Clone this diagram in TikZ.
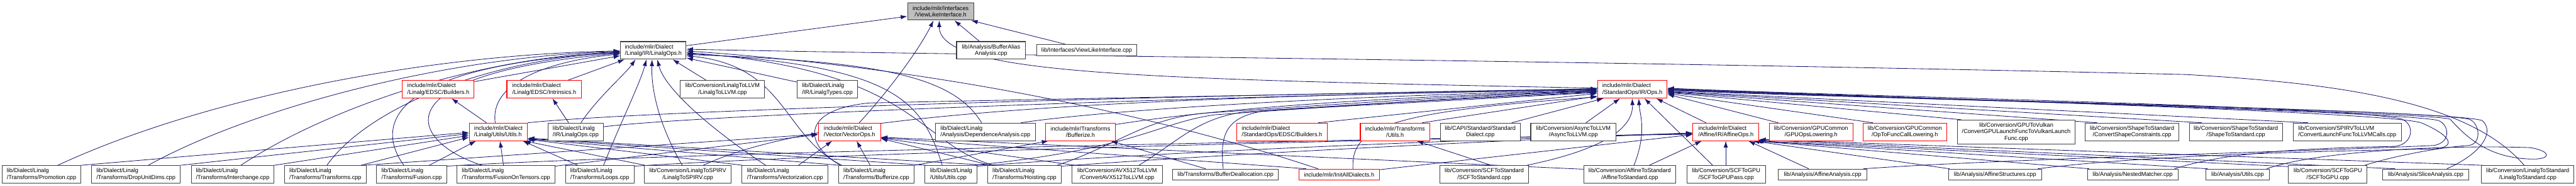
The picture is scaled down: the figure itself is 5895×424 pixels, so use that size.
\documentclass[tikz,border=0pt]{standalone}
\usepackage{fontspec}
\setmainfont{Liberation Sans}
\usetikzlibrary{arrows.meta}
\definecolor{edgec}{HTML}{191970}
\definecolor{bord}{HTML}{404040}
\definecolor{rootf}{HTML}{BFBFBF}
\pgfdeclarelayer{edgelayer}
\pgfsetlayers{edgelayer,main}
\newcommand\fnt{\fontsize{13.2}{15}\selectfont}
\newcommand\nb[7]{\pgfmathsetmacro\nbw{#4-#2}\pgfmathsetmacro\nbh{#5-#3}\pgfmathsetmacro\nbx{(#2+#4)/2}\pgfmathsetmacro\nby{(#3+#5)/2}\node[#6, minimum width=\nbw pt, minimum height=\nbh pt] (#1) at (\nbx,\nby) {#7};}
\newcommand\eT[2]{([xshift=#2pt]#1.north west)}
\newcommand\eB[2]{([xshift=#2pt]#1.south west)}
\newcommand\eL[2]{([yshift=-#2pt]#1.north west)}
\newcommand\eR[2]{([yshift=-#2pt]#1.north east)}
\tikzset{
 nbox/.style={draw=bord, line width=1.5pt, fill=white, inner sep=0pt, font=\fnt},
 rbox/.style={nbox, draw=red},
 gbox/.style={nbox, fill=rootf},
 edg/.style={draw=edgec, line width=1.2pt, -{Latex[length=15pt,width=10pt]}},
}
\begin{document}
\begin{tikzpicture}[x=1pt,y=-1pt]
\useasboundingbox (0,0) rectangle (5895,424);
% ---------- nodes ----------
\nb{root}{2077}{6}{2228}{46}{gbox, align=center}{include/mlir/Interfaces\\/ViewLikeInterface.h}
\nb{lops}{1420}{95}{1570}{135}{nbox, align=left}{include/mlir/Dialect\\/Linalg/IR/LinalgOps.h}
\nb{baa}{2189}{95}{2347}{135}{nbox, align=center}{lib/Analysis/BufferAlias\\Analysis.cpp}
\nb{vlicpp}{2372}{102}{2602}{128}{nbox}{lib/Interfaces/ViewLikeInterface.cpp}
\nb{lbld}{921}{184}{1085}{224}{rbox, align=left}{include/mlir/Dialect\\/Linalg/EDSC/Builders.h}
\nb{lint}{1160}{184}{1331}{224}{rbox, align=left}{include/mlir/Dialect\\/Linalg/EDSC/Intrinsics.h}
\nb{l2llvm}{1557}{184}{1750}{224}{nbox, align=center}{lib/Conversion/LinalgToLLVM\\/LinalgToLLVM.cpp}
\nb{ltypes}{1824}{184}{1963}{224}{nbox, align=left}{lib/Dialect/Linalg\\/IR/LinalgTypes.cpp}
\nb{stdops}{3656}{184}{3815}{224}{rbox, align=left}{include/mlir/Dialect\\/StandardOps/IR/Ops.h}
\nb{lutilh}{1074}{281}{1207}{321}{rbox, align=left}{include/mlir/Dialect\\/Linalg/Utils/Utils.h}
\nb{lopscpp}{1254}{281}{1381}{321}{nbox, align=left}{lib/Dialect/Linalg\\/IR/LinalgOps.cpp}
\nb{vec}{1873}{281}{2015}{321}{rbox, align=left}{include/mlir/Dialect\\/Vector/VectorOps.h}
\nb{dep}{2141}{281}{2369}{321}{nbox, align=left}{lib/Dialect/Linalg\\/Analysis/DependenceAnalysis.cpp}
\nb{bufh}{2393}{281}{2552}{321}{rbox, align=center}{include/mlir/Transforms\\/Bufferize.h}
\nb{sbld}{2830}{281}{3037}{321}{rbox, align=left}{include/mlir/Dialect\\/StandardOps/EDSC/Builders.h}
\nb{tutil}{3113}{281}{3272}{321}{rbox, align=center}{include/mlir/Transforms\\/Utils.h}
\nb{capi}{3296}{281}{3479}{321}{nbox, align=center}{lib/CAPI/Standard/Standard\\Dialect.cpp}
\nb{async}{3503}{281}{3698}{321}{nbox, align=center}{lib/Conversion/AsyncToLLVM\\/AsyncToLLVM.cpp}
\nb{aff}{3874}{281}{4025}{321}{rbox, align=left}{include/mlir/Dialect\\/Affine/IR/AffineOps.h}
\nb{gpul}{4049}{281}{4240}{321}{rbox, align=center}{lib/Conversion/GPUCommon\\/GPUOpsLowering.h}
\nb{opf}{4263}{281}{4455}{321}{rbox, align=center}{lib/Conversion/GPUCommon\\/OpToFuncCallLowering.h}
\nb{vulk}{4479}{274}{4749}{329}{nbox, align=center}{lib/Conversion/GPUToVulkan\\/ConvertGPULaunchFuncToVulkanLaunch\\Func.cpp}
\nb{shc}{4772}{281}{4986}{321}{nbox, align=center}{lib/Conversion/ShapeToStandard\\/ConvertShapeConstraints.cpp}
\nb{shs}{5010}{281}{5223}{321}{nbox, align=center}{lib/Conversion/ShapeToStandard\\/ShapeToStandard.cpp}
\nb{spv}{5248}{281}{5495}{321}{nbox, align=left}{lib/Conversion/SPIRVToLLVM\\/ConvertLaunchFuncToLLVMCalls.cpp}
\nb{prom}{5}{378}{185}{418}{nbox, align=left}{lib/Dialect/Linalg\\/Transforms/Promotion.cpp}
\nb{drop}{209}{378}{413}{418}{nbox, align=left}{lib/Dialect/Linalg\\/Transforms/DropUnitDims.cpp}
\nb{inter}{438}{378}{627}{418}{nbox, align=left}{lib/Dialect/Linalg\\/Transforms/Interchange.cpp}
\nb{trans}{651}{378}{838}{418}{nbox, align=left}{lib/Dialect/Linalg\\/Transforms/Transforms.cpp}
\nb{fus}{862}{378}{1022}{418}{nbox, align=left}{lib/Dialect/Linalg\\/Transforms/Fusion.cpp}
\nb{fot}{1046}{378}{1270}{418}{nbox, align=left}{lib/Dialect/Linalg\\/Transforms/FusionOnTensors.cpp}
\nb{loops}{1294}{378}{1451}{418}{nbox, align=left}{lib/Dialect/Linalg\\/Transforms/Loops.cpp}
\nb{l2spv}{1475}{378}{1673}{418}{nbox, align=center}{lib/Conversion/LinalgToSPIRV\\/LinalgToSPIRV.cpp}
\nb{vecz}{1698}{378}{1895}{418}{nbox, align=left}{lib/Dialect/Linalg\\/Transforms/Vectorization.cpp}
\nb{bufcpp}{1919}{378}{2092}{418}{nbox, align=left}{lib/Dialect/Linalg\\/Transforms/Bufferize.cpp}
\nb{lutcpp}{2117}{378}{2236}{418}{nbox, align=left}{lib/Dialect/Linalg\\/Utils/Utils.cpp}
\nb{hoist}{2260}{378}{2429}{418}{nbox, align=left}{lib/Dialect/Linalg\\/Transforms/Hoisting.cpp}
\nb{avx}{2453}{378}{2660}{418}{nbox, align=center}{lib/Conversion/AVX512ToLLVM\\/ConvertAVX512ToLLVM.cpp}
\nb{bdealloc}{2684}{386}{2925}{411}{nbox}{lib/Transforms/BufferDeallocation.cpp}
\nb{initall}{2972}{386}{3157}{411}{rbox}{include/mlir/InitAllDialects.h}
\nb{scfstd}{3295}{378}{3498}{418}{nbox, align=center}{lib/Conversion/SCFToStandard\\/SCFToStandard.cpp}
\nb{affstd}{3624}{378}{3835}{418}{nbox, align=center}{lib/Conversion/AffineToStandard\\/AffineToStandard.cpp}
\nb{scfgpup}{3860}{378}{4040}{418}{nbox, align=center}{lib/Conversion/SCFToGPU\\/SCFToGPUPass.cpp}
\nb{affan}{4070}{386}{4272}{411}{nbox}{lib/Analysis/AffineAnalysis.cpp}
\nb{affst}{4459}{386}{4672}{411}{nbox}{lib/Analysis/AffineStructures.cpp}
\nb{nest}{4777}{386}{4984}{411}{nbox}{lib/Analysis/NestedMatcher.cpp}
\nb{autil}{5048}{386}{5193}{411}{nbox}{lib/Analysis/Utils.cpp}
\nb{scfgpu}{5237}{378}{5417}{418}{nbox, align=center}{lib/Conversion/SCFToGPU\\/SCFToGPU.cpp}
\nb{slice}{5452}{386}{5650}{411}{nbox}{lib/Analysis/SliceAnalysis.cpp}
\nb{l2std}{5679}{378}{5890}{418}{nbox, align=center}{lib/Conversion/LinalgToStandard\\/LinalgToStandard.cpp}
\begin{pgfonlayer}{edgelayer}
% ---------- edges: root ----------
\draw[edg] \eR{lops}{10} -- \eL{root}{32};
\draw[edg] \eT{vec}{94} .. controls (2040,200) and (2105,110) .. \eB{root}{60};
\draw[edg] \eL{stdops}{18} .. controls (2600,180) and (2150,170) .. \eB{root}{73};
\draw[edg] \eT{baa}{53} -- \eB{root}{108};
\draw[edg] \eT{vlicpp}{68} -- \eB{root}{146};
% ---------- LinalgOps.h ----------
\draw[edg] \eT{prom}{128} .. controls (450,230) and (950,125) .. \eL{lops}{22};
\draw[edg] \eT{drop}{131} .. controls (560,255) and (1000,130) .. \eL{lops}{23};
\draw[edg] \eT{inter}{114} .. controls (720,265) and (1050,135) .. \eL{lops}{24};
\draw[edg] \eT{trans}{98} .. controls (830,260) and (1080,140) .. \eL{lops}{25};
\draw[edg] \eT{fus}{63} .. controls (860,290) and (880,150) .. \eL{lops}{26};
\draw[edg] \eT{fot}{57} .. controls (930,320) and (870,170) .. \eL{lops}{27};
\draw[edg] \eR{lbld}{3} -- \eL{lops}{33};
\draw[edg] \eT{lutilh}{60} .. controls (1120,190) and (1250,140) .. \eL{lops}{29};
\draw[edg] \eT{lint}{140} -- \eB{lops}{10};
\draw[edg] \eT{lopscpp}{76} .. controls (1370,220) and (1430,170) .. \eB{lops}{35};
\draw[edg] \eT{loops}{88} .. controls (1420,280) and (1465,190) .. \eB{lops}{60};
\draw[edg] \eT{l2spv}{87} .. controls (1505,280) and (1490,200) .. \eB{lops}{73};
\draw[edg] \eT{vecz}{55} .. controls (1620,290) and (1520,200) .. \eB{lops}{85};
\draw[edg] \eT{l2llvm}{60} -- \eB{lops}{120};
\draw[edg] \eL{ltypes}{4} -- \eR{lops}{38};
\draw[edg] \eT{bufcpp}{8} .. controls (1790,310) and (1800,150) .. \eR{lops}{33};
\draw[edg] \eT{dep}{106} .. controls (2180,170) and (2000,140) .. \eR{lops}{30};
\draw[edg] \eT{lutcpp}{40} .. controls (2110,230) and (2050,150) .. \eR{lops}{28};
\draw[edg] \eT{hoist}{15} .. controls (2100,330) and (2100,160) .. \eR{lops}{26};
\draw[edg] \eT{initall}{45} .. controls (2700,280) and (2200,160) .. \eR{lops}{22};
\draw[edg] \eT{l2std}{98} .. controls (5650,230) and (5350,190) .. (5000,170) .. controls (3500,135) and (2300,128) .. \eR{lops}{18};
% ---------- Linalg EDSC ----------
\draw[edg] \eT{lutilh}{40} -- \eB{lbld}{113};
\draw[edg] \eT{lopscpp}{48} -- \eB{lint}{105};
% ---------- Linalg Utils.h ----------
\draw[edg] \eR{prom}{0} -- \eL{lutilh}{22};
\draw[edg] \eR{drop}{0} -- \eL{lutilh}{25};
\draw[edg] \eR{inter}{0} -- \eL{lutilh}{29};
\draw[edg] \eT{trans}{176} -- \eL{lutilh}{33};
\draw[edg] \eT{fus}{121} -- \eB{lutilh}{16};
\draw[edg] \eT{fot}{107} -- \eB{lutilh}{71};
\draw[edg] \eT{loops}{29} -- \eB{lutilh}{123};
\draw[edg] \eT{l2spv}{2} -- \eB{lutilh}{126};
\draw[edg] \eT{vecz}{2} -- \eR{lutilh}{38};
\draw[edg] \eT{bufcpp}{2} -- \eR{lutilh}{37};
\draw[edg] \eT{lutcpp}{3} -- \eR{lutilh}{36};
\draw[edg] \eT{hoist}{3} -- \eR{lutilh}{35};
% ---------- VectorOps.h ----------
\draw[edg] \eT{trans}{182} -- \eL{vec}{26};
\draw[edg] \eR{fot}{2} -- \eL{vec}{27};
\draw[edg] \eT{vecz}{130} -- \eB{vec}{32};
\draw[edg] \eT{bufcpp}{73} -- \eB{vec}{88};
\draw[edg] \eT{hoist}{8} -- \eR{vec}{36};
\draw[edg] \eT{avx}{8} -- \eR{vec}{35};
\draw[edg] \eT{initall}{18} -- \eR{vec}{34};
\draw[edg] \eL{affstd}{9} -- \eR{vec}{33};
% ---------- Bufferize.h / Transforms Utils.h ----------
\draw[edg] \eR{bufcpp}{0} -- \eB{bufh}{7};
\draw[edg] \eT{bdealloc}{76} -- \eB{bufh}{150};
\draw[edg] \eT{scfstd}{118} -- \eB{tutil}{130};
% ---------- Ops.h from left ----------
\draw[edg] \eT{sbld}{187} -- \eL{stdops}{30};
\draw[edg] \eT{tutil}{142} -- \eL{stdops}{36};
\draw[edg] \eT{capi}{164} -- \eB{stdops}{14};
\draw[edg] \eT{async}{127} -- \eB{stdops}{52};
\draw[edg] \eT{initall}{125} .. controls (3090,290) and (3180,255) .. \eL{stdops}{38};
\draw[edg] \eT{scfstd}{200} .. controls (3650,345) and (3738,300) .. \eB{stdops}{80};
\draw[edg] \eT{affstd}{116} .. controls (3770,300) and (3752,260) .. \eB{stdops}{95};
\draw[edg] \eT{scfgpup}{60} -- \eB{stdops}{108};
\draw[edg] \eT{aff}{31} -- \eB{stdops}{135};
\draw[edg] \eR{lutilh}{0} .. controls (1500,250) and (2800,215) .. \eL{stdops}{20};
\draw[edg] \eR{lopscpp}{9} .. controls (1600,262) and (2800,218) .. \eL{stdops}{21};
\draw[edg] \eT{l2spv}{135} .. controls (1800,290) and (2200,225) .. \eL{stdops}{22};
\draw[edg] \eT{bufcpp}{5} .. controls (1840,330) and (1830,250) .. (1990,235) .. controls (2600,222) and (3300,210) .. \eL{stdops}{19};
\draw[edg] \eT{dep}{196} .. controls (2500,255) and (3000,220) .. \eL{stdops}{23};
\draw[edg] \eR{bufh}{4} .. controls (2800,245) and (3200,220) .. \eL{stdops}{24};
\draw[edg] \eT{hoist}{160} .. controls (2560,330) and (2620,270) .. (2760,258) .. controls (3100,235) and (3400,215) .. \eL{stdops}{25};
\draw[edg] \eT{lutcpp}{112} .. controls (2600,340) and (2650,280) .. (2780,262) .. controls (3100,240) and (3400,218) .. \eL{stdops}{26};
\draw[edg] \eT{avx}{154} .. controls (2700,320) and (2740,270) .. (2850,255) .. controls (3200,232) and (3450,220) .. \eL{stdops}{27};
\draw[edg] \eT{bdealloc}{116} .. controls (2790,300) and (2810,265) .. (2900,252) .. controls (3200,236) and (3450,222) .. \eL{stdops}{28};
% ---------- Ops.h from right ----------
\draw[edg] \eT{gpul}{21} -- \eR{stdops}{32};
\draw[edg] \eT{opf}{24} -- \eR{stdops}{30};
\draw[edg] \eT{vulk}{10} -- \eR{stdops}{28};
\draw[edg] \eT{shc}{28} -- \eR{stdops}{27};
\draw[edg] \eT{shs}{30} -- \eR{stdops}{26};
\draw[edg] \eT{spv}{35} -- \eR{stdops}{25};
\draw[edg] \eT{nest}{200} .. controls (5100,345) and (5300,338) .. (5480,334) .. controls (5525,330) and (5528,278) .. (5490,270) .. controls (5300,240) and (4300,222) .. \eR{stdops}{18};
\draw[edg] \eT{affst}{205} .. controls (4900,355) and (5300,345) .. (5570,340) .. controls (5630,335) and (5600,305) .. (5540,280) .. controls (5450,255) and (4400,225) .. \eR{stdops}{19};
\draw[edg] \eT{affan}{195} .. controls (4600,362) and (5300,345) .. (5570,332) .. controls (5610,325) and (5605,285) .. (5580,275) .. controls (5500,255) and (4400,226) .. \eR{stdops}{20};
\draw[edg] \eT{scfgpu}{175} .. controls (5500,350) and (5600,335) .. (5650,332) .. controls (5680,328) and (5675,280) .. (5650,272) .. controls (5550,250) and (4400,228) .. \eR{stdops}{21};
\draw[edg] \eT{autil}{140} .. controls (5300,345) and (5600,330) .. (5790,337) .. controls (5840,345) and (5840,365) .. (5790,363) .. controls (5700,360) and (5650,320) .. (5607,272) .. controls (5550,255) and (4400,228) .. \eR{stdops}{22};
\draw[edg] \eT{slice}{148} .. controls (5680,350) and (5710,300) .. (5680,275) .. controls (5600,250) and (4400,230) .. \eR{stdops}{23};
% ---------- AffineOps.h ----------
\draw[edg] \eR{initall}{2} -- \eL{aff}{27};
\draw[edg] \eR{fus}{2} .. controls (1500,350) and (3000,320) .. \eL{aff}{26};
\draw[edg] \eR{loops}{2} .. controls (2000,345) and (3200,318) .. \eL{aff}{25};
\draw[edg] \eR{lutcpp}{2} .. controls (2600,350) and (3300,320) .. \eL{aff}{24};
\draw[edg] \eR{hoist}{2} .. controls (2800,352) and (3400,322) .. \eL{aff}{23};
\draw[edg] \eT{affstd}{151} -- \eB{aff}{21};
\draw[edg] \eT{scfgpup}{90} -- \eB{aff}{76};
\draw[edg] \eT{affan}{70} -- \eB{aff}{128};
\draw[edg] \eT{affst}{3} -- \eB{aff}{138};
\draw[edg] \eT{nest}{5} -- \eB{aff}{143};
\draw[edg] \eT{autil}{5} -- \eB{aff}{146};
\draw[edg] \eL{scfgpu}{3} -- \eB{aff}{148};
\draw[edg] \eT{slice}{30} -- \eR{aff}{39};
\draw[edg] \eT{l2std}{3} -- \eR{aff}{38};
\end{pgfonlayer}
\end{tikzpicture}
\end{document}
